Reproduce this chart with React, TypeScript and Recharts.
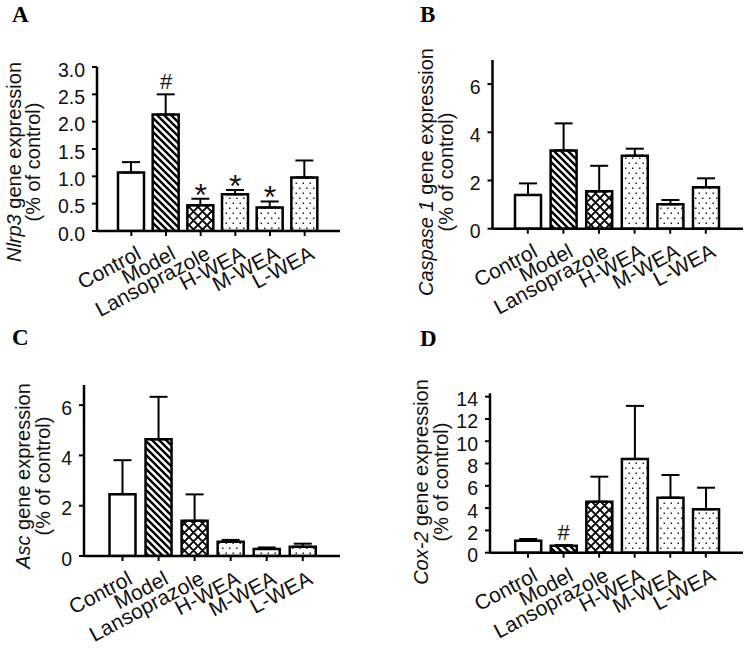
import React from "react";
import { ComposedChart, Bar, Cell, XAxis, YAxis, ErrorBar, Scatter } from "recharts";

const SANS = "'Liberation Sans', Arial, sans-serif";
const SERIF = "'Liberation Serif', 'Times New Roman', serif";

const categories = ["Control", "Model", "Lansoprazole", "H-WEA", "M-WEA", "L-WEA"];
const fills = ["white", "hatch", "cross", "dots", "dots", "dots"];

const nlrp3Mean = [1.07, 2.13, 0.47, 0.67, 0.43, 0.98];
const nlrp3Err = [0.19, 0.37, 0.12, 0.08, 0.11, 0.31];
const nlrp3Marks = ["", "#", "*", "*", "*", ""];
const nlrp3Ticks = [0, 0.5, 1.0, 1.5, 2.0, 2.5, 3.0];

const casp1Mean = [1.4, 3.25, 1.55, 3.03, 1.01, 1.72];
const casp1Err = [0.48, 1.12, 1.06, 0.29, 0.18, 0.37];
const casp1Marks = ["", "", "", "", "", ""];
const casp1Ticks = [0, 2, 4, 6];

const ascMean = [2.46, 4.64, 1.4, 0.57, 0.28, 0.37];
const ascErr = [1.35, 1.69, 1.05, 0.07, 0.06, 0.12];
const ascMarks = ["", "", "", "", "", ""];
const ascTicks = [0, 2, 4, 6];

const cox2Mean = [1.08, 0.63, 4.58, 8.41, 4.94, 3.89];
const cox2Err = [0.15, 0.05, 2.24, 4.76, 2.03, 1.94];
const cox2Marks = ["", "#", "", "", "", ""];
const cox2Ticks = [0, 2, 4, 6, 8, 10, 12, 14];

type PanelProps = {
  id: string;
  left: number;
  top: number;
  width: number;
  height: number;
  axisX: number;
  rightX: number;
  topY: number;
  zeroY: number;
  padL: number;
  padR: number;
  max: number;
  ticks: number[];
  decimals: number;
  gene: string;
  means: number[];
  errs: number[];
  marks: string[];
  off1: number;
  off2: number;
  labelCY: number;
};

function Patterns({ id }: { id: string }) {
  return (
    <defs>
      <pattern id={`${id}-hatch`} patternUnits="userSpaceOnUse" width={7} height={7}>
        <rect width={7} height={7} fill="#fff" />
        <path d="M0,0 L7,7 M-1,6 L1,8 M6,-1 L8,1" stroke="#000" strokeWidth={2.4} />
      </pattern>
      <pattern id={`${id}-cross`} patternUnits="userSpaceOnUse" width={9} height={9}>
        <rect width={9} height={9} fill="#fff" />
        <path
          d="M0,0 L9,9 M9,0 L0,9 M-1,1 L1,-1 M8,10 L10,8 M-1,8 L1,10 M8,-1 L10,1"
          stroke="#000"
          strokeWidth={1.9}
        />
      </pattern>
      <pattern id={`${id}-dots`} patternUnits="userSpaceOnUse" width={7} height={10}>
        <rect width={7} height={10} fill="#fff" />
        <rect x={1.5} y={2.5} width={1.5} height={1.5} fill="#222" />
        <rect x={5} y={7.5} width={1.5} height={1.5} fill="#222" />
      </pattern>
    </defs>
  );
}

function Panel(p: PanelProps) {
  const data = categories.map((name, i) => ({
    name,
    mean: p.means[i],
    err: [0, p.errs[i]],
    annY: p.means[i] + p.errs[i],
    mark: p.marks[i],
    fill: fills[i],
  }));
  const yAxisWidth = 60;
  const xAxisHeight = 90;
  const margin = {
    top: p.topY - p.top,
    left: p.axisX - p.left - yAxisWidth,
    right: p.left + p.width - p.rightX,
    bottom: p.top + p.height - p.zeroY - xAxisHeight,
  };

  const YTick = (t: any) => (
    <text x={t.x} y={t.y + 9.5} textAnchor="end" fontSize={19.5} fontFamily={SANS} fill="#111">
      {Number(t.payload.value).toFixed(p.decimals)}
    </text>
  );

  const XTick = (t: any) => (
    <text
      transform={`translate(${t.x + 11},${t.y + 20}) rotate(-28)`}
      textAnchor="end"
      fontSize={21}
      fontFamily={SANS}
      fill="#111"
    >
      {t.payload.value}
    </text>
  );

  const AxisLabel = () => {
    const x1 = p.axisX - p.left - p.off1;
    const x2 = p.axisX - p.left - p.off2;
    const cy = p.labelCY - p.top;
    return (
      <g fontFamily={SANS} fontSize={20} fill="#111">
        <text transform={`translate(${x1},${cy}) rotate(-90)`} textAnchor="middle">
          <tspan fontStyle="italic">{p.gene}</tspan>
          <tspan> gene expression</tspan>
        </text>
        <text transform={`translate(${x2},${cy}) rotate(-90)`} textAnchor="middle">
          (% of control)
        </text>
      </g>
    );
  };

  const Ann = (s: any) => {
    const mark = s.payload && s.payload.mark;
    if (!mark) return <g />;
    if (mark === "#") {
      return (
        <text x={s.cx} y={s.cy - 5} textAnchor="middle" fontSize={22} fontFamily={SANS} fill="#111">
          #
        </text>
      );
    }
    return (
      <text x={s.cx} y={s.cy + 7} textAnchor="middle" fontSize={32} fontFamily={SANS} fill="#111">
        *
      </text>
    );
  };

  return (
    <div style={{ position: "absolute", left: p.left, top: p.top, width: p.width, height: p.height }}>
      <ComposedChart width={p.width} height={p.height} data={data} margin={margin}>
        <Patterns id={p.id} />
        <XAxis
          dataKey="name"
          type="category"
          interval={0}
          height={xAxisHeight}
          padding={{ left: p.padL, right: p.padR }}
          tickSize={5}
          tick={XTick}
          axisLine={{ stroke: "#000", strokeWidth: 2.5 }}
          tickLine={{ stroke: "#000", strokeWidth: 2 }}
        />
        <YAxis
          type="number"
          domain={[0, p.max]}
          ticks={p.ticks}
          interval={0}
          allowDataOverflow
          width={yAxisWidth}
          tickSize={5}
          tickMargin={7}
          tick={YTick}
          axisLine={{ stroke: "#000", strokeWidth: 2.5 }}
          tickLine={{ stroke: "#000", strokeWidth: 2 }}
          label={{ content: AxisLabel }}
        />
        <Bar dataKey="mean" barSize={26} stroke="#000" strokeWidth={2.5} isAnimationActive={false}>
          {data.map((d, i) => (
            <Cell key={i} fill={d.fill === "white" ? "#fff" : `url(#${p.id}-${d.fill})`} />
          ))}
          <ErrorBar dataKey="err" width={9} strokeWidth={2} stroke="#000" direction="y" />
        </Bar>
        <Scatter dataKey="annY" shape={Ann} isAnimationActive={false} legendType="none" />
      </ComposedChart>
    </div>
  );
}

const panelLetters = [
  { t: "A", x: 12, y: 22 },
  { t: "B", x: 420, y: 22 },
  { t: "C", x: 12, y: 345 },
  { t: "D", x: 420, y: 346 },
];

export default function App() {
  return (
    <div style={{ position: "absolute", left: 0, top: 0, width: 750, height: 653, background: "#fff" }}>
      <Panel
        id="pa"
        left={0}
        top={0}
        width={375}
        height={330}
        axisX={97}
        rightX={340}
        topY={67}
        zeroY={231}
        padL={17}
        padR={18}
        max={3}
        ticks={nlrp3Ticks}
        decimals={1}
        gene="Nlrp3"
        means={nlrp3Mean}
        errs={nlrp3Err}
        marks={nlrp3Marks}
        off1={76}
        off2={57}
        labelCY={162}
      />
      <Panel
        id="pb"
        left={375}
        top={0}
        width={375}
        height={330}
        axisX={492.5}
        rightX={743}
        topY={60}
        zeroY={228.7}
        padL={17.5}
        padR={19.4}
        max={7}
        ticks={casp1Ticks}
        decimals={0}
        gene="Caspase 1"
        means={casp1Mean}
        errs={casp1Err}
        marks={casp1Marks}
        off1={60}
        off2={40}
        labelCY={172}
      />
      <Panel
        id="pc"
        left={0}
        top={330}
        width={375}
        height={323}
        axisX={84}
        rightX={340}
        topY={385}
        zeroY={556}
        padL={20.5}
        padR={19.2}
        max={6.8}
        ticks={ascTicks}
        decimals={0}
        gene="Asc"
        means={ascMean}
        errs={ascErr}
        marks={ascMarks}
        off1={54}
        off2={34}
        labelCY={476}
      />
      <Panel
        id="pd"
        left={375}
        top={330}
        width={375}
        height={323}
        axisX={490}
        rightX={743}
        topY={393.3}
        zeroY={552.7}
        padL={20.2}
        padR={19.4}
        max={14.3}
        ticks={cox2Ticks}
        decimals={0}
        gene="Cox-2"
        means={cox2Mean}
        errs={cox2Err}
        marks={cox2Marks}
        off1={62}
        off2={42}
        labelCY={482}
      />
      <svg width={750} height={653} style={{ position: "absolute", left: 0, top: 0, pointerEvents: "none" }}>
        {panelLetters.map((l) => (
          <text key={l.t} x={l.x} y={l.y} fontFamily={SERIF} fontWeight="bold" fontSize={23} fill="#000">
            {l.t}
          </text>
        ))}
      </svg>
    </div>
  );
}
